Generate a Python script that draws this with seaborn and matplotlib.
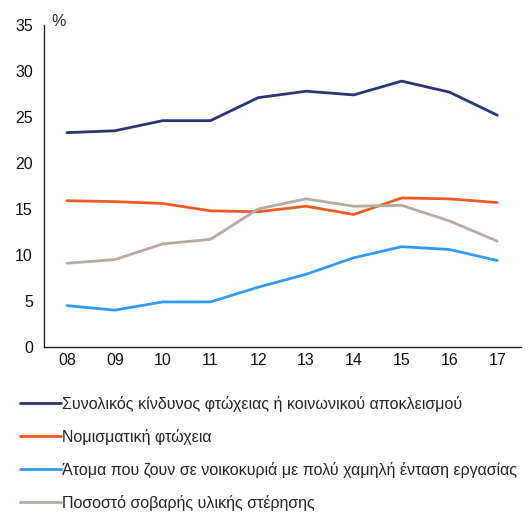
import pandas as pd
import matplotlib
matplotlib.use("Agg")
import matplotlib.pyplot as plt
import seaborn as sns

years = ["08", "09", "10", "11", "12", "13", "14", "15", "16", "17"]

synoliko = [23.3, 23.5, 24.6, 24.6, 27.1, 27.8, 27.4, 28.9, 27.7, 25.2]
nomismatiki = [15.9, 15.8, 15.6, 14.8, 14.7, 15.3, 14.4, 16.2, 16.1, 15.7]
xamili_entasi = [4.5, 4.0, 4.9, 4.9, 6.5, 7.9, 9.7, 10.9, 10.6, 9.4]
yliki_sterisi = [9.1, 9.5, 11.2, 11.7, 15.0, 16.1, 15.3, 15.4, 13.7, 11.5]

labels = [
    "Συνολικός κίνδυνος φτώχειας ή κοινωνικού αποκλεισμού",
    "Νομισματική φτώχεια",
    "Άτομα που ζουν σε νοικοκυριά με πολύ χαμηλή ένταση εργασίας",
    "Ποσοστό σοβαρής υλικής στέρησης",
]
colors = ["#2E3470", "#EE5A24", "#3399F3", "#B7AAA4"]

# long form για το seaborn
rows = []
for lab, vals in zip(labels, [synoliko, nomismatiki, xamili_entasi, yliki_sterisi]):
    for i, v in enumerate(vals):
        rows.append({"x": i, "year": years[i], "value": v, "series": lab})
df = pd.DataFrame(rows)

sns.set_style("white")
plt.rcParams["font.family"] = ["Liberation Sans", "DejaVu Sans"]

fig = plt.figure(figsize=(5.29, 5.13), dpi=100)
ax = fig.add_axes([0.0832, 0.3236, 0.902, 0.6277])

sns.lineplot(data=df, x="x", y="value", hue="series", palette=colors,
             hue_order=labels, linewidth=2.0, ax=ax, legend=False)

ax.set_xlim(-0.48, 9.5)
ax.set_ylim(0, 35)
ax.set_xticks(range(len(years)))
ax.set_xticklabels(years)
ax.set_yticks(range(0, 36, 5))
ax.tick_params(axis="both", labelsize=11.5, length=0, colors="#111111")
ax.tick_params(axis="y", pad=8)
ax.tick_params(axis="x", pad=4)
ax.set_xlabel("")
ax.set_ylabel("")
for s in ["top", "right"]:
    ax.spines[s].set_visible(False)
for s in ["left", "bottom"]:
    ax.spines[s].set_color("#222222")
    ax.spines[s].set_linewidth(1.0)

ax.text(0.016, 1.012, "%", transform=ax.transAxes, fontsize=11.5, va="center", ha="left")

handles = [plt.Line2D([], [], color=c, linewidth=2.0) for c in colors]
fig.legend(handles, labels, loc="upper left", bbox_to_anchor=(20 / 529, 1 - 396 / 513),
           frameon=False, fontsize=11.5, handlelength=2.56, handletextpad=0.1,
           labelspacing=1.06, borderpad=0, borderaxespad=0)

fig.savefig("out.png", dpi=100)
